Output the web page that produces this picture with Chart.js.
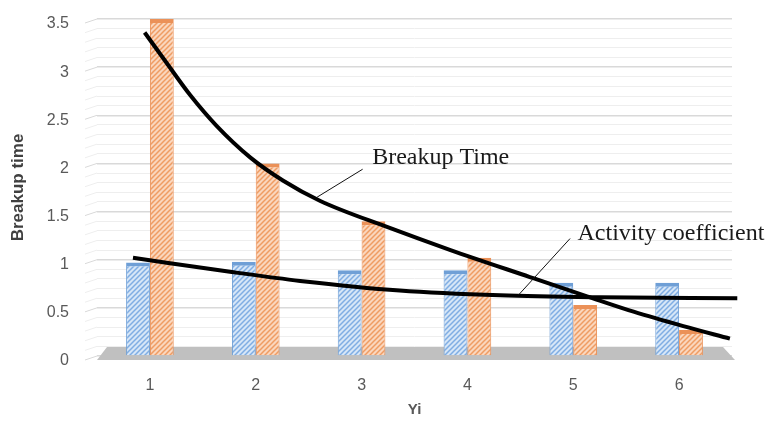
<!DOCTYPE html>
<html>
<head>
<meta charset="utf-8">
<script src="https://cdn.jsdelivr.net/npm/chart.js@4.4.0/dist/chart.umd.min.js"></script>
<style>
  html, body { margin: 0; padding: 0; background: #fff; }
  #wrap { width: 767px; height: 424px; }
</style>
</head>
<body>
<div id="wrap"><canvas id="chart" width="767" height="424"></canvas></div>
<script>
const categories = ['1', '2', '3', '4', '5', '6'];
const activityBars = [0.97, 0.98, 0.89, 0.89, 0.76, 0.76];
const breakupBars = [3.5, 2.0, 1.4, 1.02, 0.53, 0.27];

// trend curves, x in group units (1 = first group)
const breakupCurveX = [0.95, 1.16, 1.38, 1.63, 1.95, 2.26, 2.61, 3.24, 3.84, 4.59, 5.13, 5.57, 6.04, 6.48];
const breakupCurveY = [3.36, 3.04, 2.71, 2.39, 2.06, 1.82, 1.61, 1.34, 1.10, 0.82, 0.62, 0.46, 0.31, 0.18];
const activityCurveX = [0.84, 1.79, 2.42, 3.36, 4.31, 5.25, 6.55];
const activityCurveY = [1.02, 0.87, 0.78, 0.68, 0.63, 0.61, 0.60];

const yTickLabels = ['0', '0.5', '1', '1.5', '2', '2.5', '3', '3.5'];

const canvas = document.getElementById('chart');
const ctx = canvas.getContext('2d');

function hatch(bg, stripe) {
    const c = document.createElement('canvas');
    c.width = 5; c.height = 5;
    const g = c.getContext('2d');
    g.fillStyle = bg;
    g.fillRect(0, 0, 5, 5);
    g.strokeStyle = stripe;
    g.lineWidth = 1.5;
    g.beginPath();
    g.moveTo(0, 5); g.lineTo(5, 0);
    g.moveTo(-1, 1); g.lineTo(1, -1);
    g.moveTo(4, 6); g.lineTo(6, 4);
    g.stroke();
    return ctx.createPattern(c, 'repeat');
}

function isMajor(v) {
    return Math.abs(v * 2 - Math.round(v * 2)) < 1e-6;
}

function toPoints(xs, ys) {
    return xs.map((x, i) => ({ x: x, y: ys[i] }));
}

// callouts on the curves
const notes = [
    { text: 'Breakup Time', at: [3.10, 2.06], from: [3.01, 1.94], to: [2.58, 1.65] },
    { text: 'Activity coefficient', at: [5.04, 1.27], from: [4.97, 1.22], to: [4.48, 0.63] }
];

const decor = {
    id: 'decor',
    beforeDatasetsDraw(chart) {
        const { ctx, chartArea } = chart;
        const y = chart.scales.y;
        const left = chartArea.left, right = chartArea.right;
        const y0 = y.getPixelForValue(0);

        // side wall stubs
        ctx.save();
        y.ticks.forEach(t => {
            const py = y.getPixelForValue(t.value);
            ctx.strokeStyle = isMajor(t.value) ? '#d9d9d9' : '#eeeeee';
            ctx.lineWidth = 1;
            ctx.beginPath();
            ctx.moveTo(left - 12, py + 4);
            ctx.lineTo(left, py);
            ctx.stroke();
        });

        // floor
        ctx.fillStyle = '#c0c0c0';
        ctx.beginPath();
        ctx.moveTo(left, y0 + 4);
        ctx.lineTo(left + 10, y0 - 9);
        ctx.lineTo(right - 9, y0 - 9);
        ctx.lineTo(right + 3, y0 + 4);
        ctx.closePath();
        ctx.fill();
        ctx.restore();
    },
    afterDatasetsDraw(chart) {
        const { ctx } = chart;
        const xs = chart.scales.x2, ys = chart.scales.y;
        ctx.save();
        notes.forEach(n => {
            ctx.strokeStyle = '#111';
            ctx.lineWidth = 1;
            ctx.beginPath();
            ctx.moveTo(xs.getPixelForValue(n.from[0]), ys.getPixelForValue(n.from[1]));
            ctx.lineTo(xs.getPixelForValue(n.to[0]), ys.getPixelForValue(n.to[1]));
            ctx.stroke();
            ctx.fillStyle = '#1a1a1a';
            ctx.font = '24px "Liberation Serif"';
            ctx.textBaseline = 'middle';
            ctx.textAlign = 'left';
            ctx.fillText(n.text, xs.getPixelForValue(n.at[0]), ys.getPixelForValue(n.at[1]));
        });
        ctx.restore();
    }
};

const tickFont = { family: '"Liberation Sans", Arial, sans-serif', size: 16 };

new Chart(ctx, {
    type: 'bar',
    data: {
        labels: categories,
        datasets: [
            {
                type: 'line',
                label: 'Breakup Time',
                data: toPoints(breakupCurveX, breakupCurveY),
                xAxisID: 'x2',
                borderColor: '#000',
                borderWidth: 4,
                pointRadius: 0,
                cubicInterpolationMode: 'monotone',
                clip: false,
                order: 1
            },
            {
                type: 'line',
                label: 'Activity coefficient',
                data: toPoints(activityCurveX, activityCurveY),
                xAxisID: 'x2',
                borderColor: '#000',
                borderWidth: 4,
                pointRadius: 0,
                cubicInterpolationMode: 'monotone',
                clip: false,
                order: 1
            },
            {
                label: 'Activity coefficient',
                data: activityBars,
                backgroundColor: hatch('#d6e6f7', '#7fade3'),
                borderColor: '#6f9fd6',
                borderWidth: { top: 4, left: 1, right: 1, bottom: 0 },
                categoryPercentage: 0.9,
                barPercentage: 1.0,
                order: 2
            },
            {
                label: 'Breakup Time',
                data: breakupBars,
                backgroundColor: hatch('#fad6bd', '#ef9c63'),
                borderColor: '#eb9158',
                borderWidth: { top: 4, left: 1, right: 1, bottom: 0 },
                categoryPercentage: 0.9,
                barPercentage: 1.0,
                order: 2
            }
        ]
    },
    options: {
        responsive: false,
        animation: false,
        layout: { padding: { top: 19, right: 35, left: 0, bottom: 0 } },
        plugins: {
            legend: { display: false },
            tooltip: { enabled: false }
        },
        scales: {
            x: {
                offset: true,
                grid: { display: false, drawTicks: false },
                border: { display: false },
                ticks: { color: '#595959', font: tickFont, padding: 20 },
                title: {
                    display: true,
                    text: 'Yi',
                    color: '#595959',
                    font: { family: tickFont.family, size: 15, weight: 'bold' },
                    padding: { top: 0, bottom: 5 }
                },
                afterFit: s => { s.height = 68; }
            },
            x2: {
                type: 'linear',
                display: false,
                offset: false,
                bounds: 'data',
                afterDataLimits: s => { s.min = 0.5; s.max = 6.5; }
            },
            y: {
                min: 0,
                max: 3.5,
                border: { display: false },
                grid: {
                    drawTicks: true,
                    tickLength: 28,
                    tickColor: 'rgba(0,0,0,0)',
                    color: c => isMajor(c.tick.value) ? '#d9d9d9' : '#eeeeee',
                    lineWidth: c => isMajor(c.tick.value) ? 1.4 : 1
                },
                ticks: {
                    stepSize: 0.1,
                    maxTicksLimit: 100,
                    autoSkip: false,
                    padding: 0,
                    labelOffset: 5,
                    color: '#595959',
                    font: tickFont,
                    callback: v => {
                        if (!isMajor(v)) return '';
                        const s = String(Math.round(v * 2) / 2);
                        return yTickLabels.includes(s) ? s : '';
                    }
                },
                title: {
                    display: true,
                    text: 'Breakup time',
                    color: '#404040',
                    font: { family: tickFont.family, size: 17, weight: 'bold' },
                    padding: { top: 8 }
                },
                afterFit: s => { s.width = 97; }
            }
        }
    },
    plugins: [decor]
});
</script>
</body>
</html>
